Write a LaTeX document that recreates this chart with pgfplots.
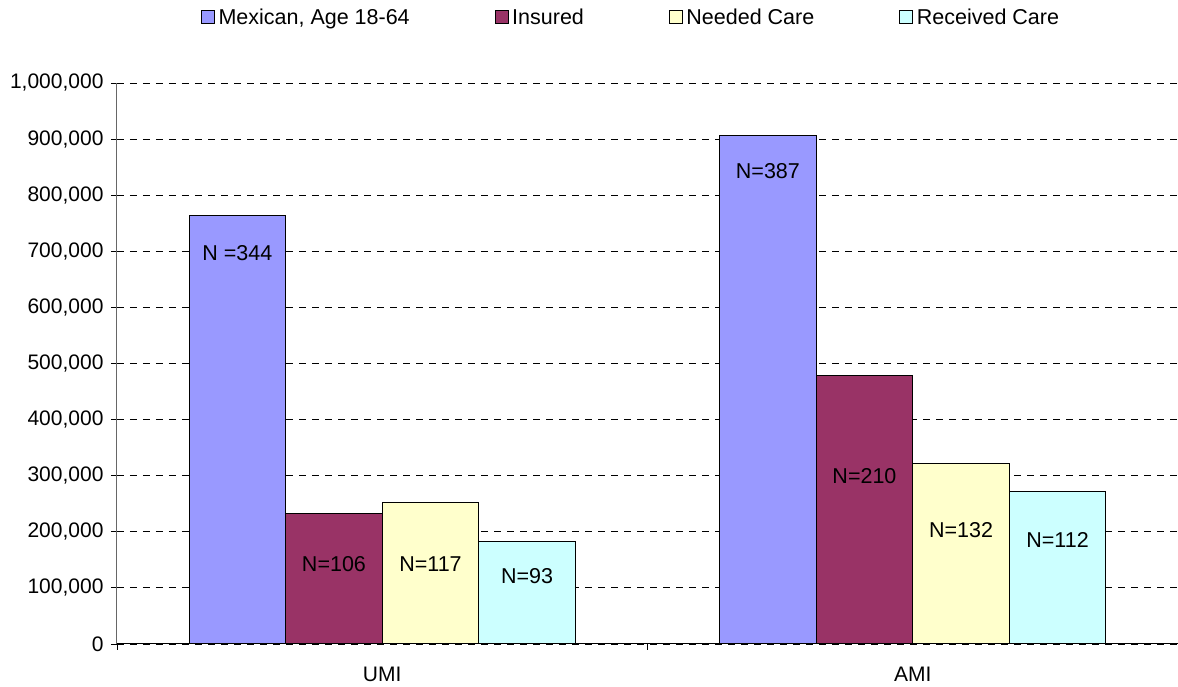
\documentclass[border=0pt]{standalone}
\usepackage{pgfplots}
\pgfplotsset{compat=1.18}
\usepackage{fontspec}
\setmainfont{Liberation Sans}

\definecolor{mexican}{HTML}{9999FF}
\definecolor{insured}{HTML}{993366}
\definecolor{needed}{HTML}{FFFFCC}
\definecolor{received}{HTML}{CCFFFF}

\newcommand{\lblfont}{\fontsize{21.5}{25}\selectfont}
\newcommand{\tickfont}{\fontsize{21}{24}\selectfont}

\begin{document}
\begin{tikzpicture}
\useasboundingbox (-117pt,-43pt) rectangle (1061pt,644pt);
\begin{axis}[
  at={(0pt,0pt)}, anchor=south west,
  scale only axis, width=1061pt, height=561pt,
  xmin=-0.5, xmax=1.5, ymin=0, ymax=1000000,
  axis x line*=bottom, axis y line*=left,
  x axis line style={-, black, line width=1pt},
  y axis line style={-, black!60, line width=1pt},
  xtick={-0.5,0.5,1.5},
  xticklabels={UMI,AMI},
  x tick label as interval,
  ytick={0,100000,...,1000000},
  tick align=outside,
  major tick length=6pt,
  tick style={black, line width=0.8pt},
  scaled y ticks=false,
  ticklabel style={font=\tickfont},
  yticklabel style={xshift=-4pt, /pgf/number format/.cd, fixed, precision=0, 1000 sep={,}, assume math mode=true},
  yticklabel={\pgfmathprintnumber{\tick}},
  xticklabel style={yshift=-14pt},
  ymajorgrids,
  major grid style={black, line width=0.8pt, dash pattern=on 7pt off 6pt},
  legend columns=4,
  legend style={at={(axis description cs:0.4845,1.117)}, anchor=center,
    draw=none, font=\lblfont,
    /tikz/every even column/.append style={column sep=83pt}},
  legend image code/.code={%
    \draw[#1, draw=black, line width=1pt] (0pt,-6.5pt) rectangle (13pt,6.5pt);
    \path[draw=none, fill=none] (15pt,0pt);},
  every axis plot/.append style={ybar, bar width=0.182, draw=black, line width=1pt},
]
\addplot[fill=mexican,  bar shift=-0.273] coordinates {(0,763000) (1,906000)};
\addplot[fill=insured,  bar shift=-0.091] coordinates {(0,233000) (1,478000)};
\addplot[fill=needed,   bar shift=0.091]  coordinates {(0,253000) (1,321000)};
\addplot[fill=received, bar shift=0.273]  coordinates {(0,182000) (1,271000)};
\legend{Mexican{,} Age 18-64, Insured, Needed Care, Received Care}

% sample sizes written inside the bars
\node[font=\lblfont] at (axis cs:-0.273,697000) {N =344};
\node[font=\lblfont] at (axis cs:-0.091,142600) {N=106};
\node[font=\lblfont] at (axis cs:0.091,142600)  {N=117};
\node[font=\lblfont] at (axis cs:0.273,121000)  {N=93};
\node[font=\lblfont] at (axis cs:0.727,843000)  {N=387};
\node[font=\lblfont] at (axis cs:0.909,299500)  {N=210};
\node[font=\lblfont] at (axis cs:1.091,203000)  {N=132};
\node[font=\lblfont] at (axis cs:1.273,185000)  {N=112};
\end{axis}
\end{tikzpicture}
\end{document}
